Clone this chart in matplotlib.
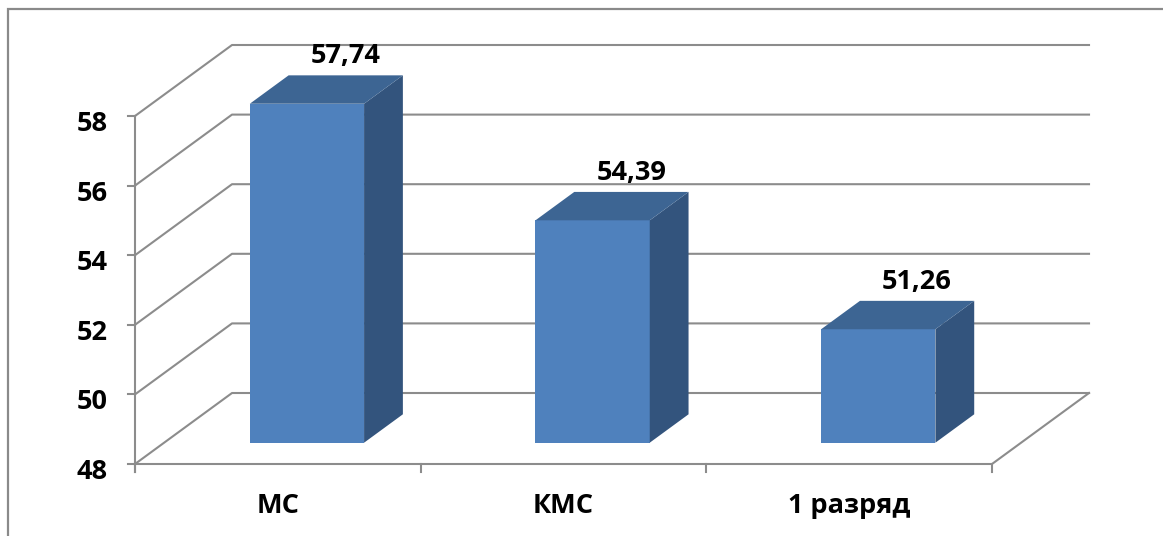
import matplotlib
matplotlib.use("Agg")
import matplotlib.pyplot as plt
from matplotlib.patches import Polygon, Rectangle

plt.rcParams['font.family'] = ['Open Sans', 'DejaVu Sans']

categories = ["МС", "КМС", "1 разряд"]
values = [57.74, 54.39, 51.26]
value_labels = ["57,74", "54,39", "51,26"]
yticks = [48, 50, 52, 54, 56, 58]

# fake 3d depth (x in category units, y in value units)
dx = 0.3396
dy = 2.04
ybase = 48
grid_c = '#8c8c8c'
front_c = '#4f81bd'
side_c = '#33547d'
top_c = '#3d6593'
fs = 19.5

fig = plt.figure(figsize=(11.63, 5.36), dpi=100)
ax = fig.add_axes([0, 0, 1, 1])
ax.set_xlim(-0.4726, 3.5986)
ax.set_ylim(45.931, 61.333)
ax.axis('off')

n = len(categories)

# walls / grid
for v in yticks:
    ax.plot([0, dx, n + dx], [v, v + dy, v + dy], color=grid_c, lw=1.5, zorder=1)
    ax.plot([-0.0245, 0], [v, v], color=grid_c, lw=1.5, zorder=1)
    ax.text(-0.0963, v - 0.43, str(v), ha='right', va='baseline',
            fontsize=fs, fontweight='bold')
ax.plot([0, 0], [ybase - 0.23, yticks[-1]], color=grid_c, lw=1.5, zorder=1)
ax.plot([0, n, n + dx], [ybase, ybase, ybase + dy], color=grid_c, lw=1.5, zorder=1)
for i in range(n + 1):
    ax.plot([i, i], [ybase, ybase - 0.23], color=grid_c, lw=1.5, zorder=1)

# bars
for i, v in enumerate(values):
    x0 = i + 0.3 + 0.3 * dx
    x1 = x0 + 0.4
    b = ybase + 0.3 * dy
    t = v + 0.3 * dy
    ddx, ddy = 0.4 * dx, 0.4 * dy
    ax.add_patch(Polygon([(x0, b), (x1, b), (x1, t), (x0, t)], closed=True,
                         facecolor=front_c, edgecolor='none', zorder=3))
    ax.add_patch(Polygon([(x1, b), (x1 + ddx, b + ddy), (x1 + ddx, t + ddy), (x1, t)],
                         closed=True, facecolor=side_c, edgecolor='none', zorder=3))
    ax.add_patch(Polygon([(x0, t), (x1, t), (x1 + ddx, t + ddy), (x0 + ddx, t + ddy)],
                         closed=True, facecolor=top_c, edgecolor='none', zorder=3))
    ax.text(i + 0.5 + 0.7 * dx, v + 0.7 * dy + 0.35, value_labels[i],
            ha='center', va='baseline', fontsize=fs, fontweight='bold', zorder=4)
    ax.text(i + 0.5, 46.59, categories[i], ha='center', va='baseline',
            fontsize=fs, fontweight='bold')

# chart frame (only top and left edges visible)
fig.patches.append(Rectangle((7.5 / 1163, -0.1), 1.2, 1.1 - 8.5 / 536,
                             transform=fig.transFigure, fill=False,
                             edgecolor='#8a8a8a', lw=1.6))

fig.savefig("out.png", dpi=100)
